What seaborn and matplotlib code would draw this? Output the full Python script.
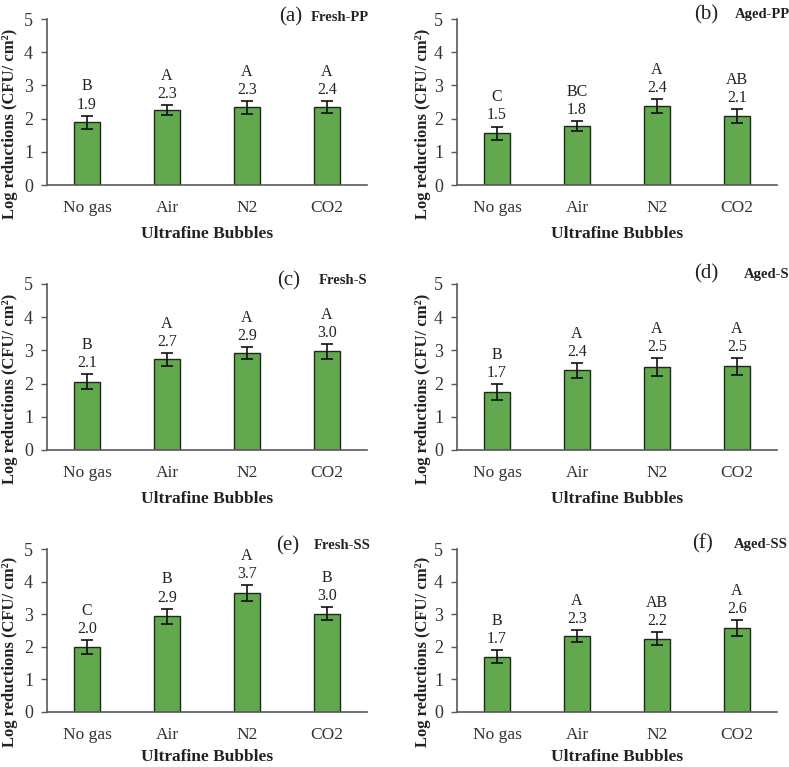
import matplotlib
matplotlib.use("Agg")
import matplotlib.pyplot as plt
import seaborn as sns
import pandas as pd
import numpy as np

sns.set_theme(style="white")
plt.rcParams['font.family'] = ['Liberation Serif', 'DejaVu Serif']

categories = ["No gas", "Air", "N2", "CO2"]

panel_ids = ["(a)", "(b)", "(c)", "(d)", "(e)", "(f)"]
panel_names = ["Fresh-PP", "Aged-PP", "Fresh-S", "Aged-S", "Fresh-SS", "Aged-SS"]

fresh_pp = [1.89, 2.26, 2.34, 2.36]
fresh_pp_err = [0.20, 0.15, 0.20, 0.18]
fresh_pp_grp = ["B", "A", "A", "A"]
fresh_pp_lbl = ["1.9", "2.3", "2.3", "2.4"]

aged_pp = [1.56, 1.78, 2.38, 2.08]
aged_pp_err = [0.20, 0.15, 0.20, 0.20]
aged_pp_grp = ["C", "BC", "A", "AB"]
aged_pp_lbl = ["1.5", "1.8", "2.4", "2.1"]

fresh_s = [2.06, 2.73, 2.92, 2.97]
fresh_s_err = [0.22, 0.20, 0.18, 0.22]
fresh_s_grp = ["B", "A", "A", "A"]
fresh_s_lbl = ["2.1", "2.7", "2.9", "3.0"]

aged_s = [1.75, 2.40, 2.50, 2.52]
aged_s_err = [0.23, 0.22, 0.27, 0.25]
aged_s_grp = ["B", "A", "A", "A"]
aged_s_lbl = ["1.7", "2.4", "2.5", "2.5"]

fresh_ss = [2.00, 2.94, 3.65, 3.02]
fresh_ss_err = [0.21, 0.23, 0.25, 0.21]
fresh_ss_grp = ["C", "B", "A", "B"]
fresh_ss_lbl = ["2.0", "2.9", "3.7", "3.0"]

aged_ss = [1.70, 2.34, 2.24, 2.58]
aged_ss_err = [0.21, 0.18, 0.20, 0.24]
aged_ss_grp = ["B", "A", "AB", "A"]
aged_ss_lbl = ["1.7", "2.3", "2.2", "2.6"]

series = [
    (fresh_pp, fresh_pp_err, fresh_pp_grp, fresh_pp_lbl),
    (aged_pp, aged_pp_err, aged_pp_grp, aged_pp_lbl),
    (fresh_s, fresh_s_err, fresh_s_grp, fresh_s_lbl),
    (aged_s, aged_s_err, aged_s_grp, aged_s_lbl),
    (fresh_ss, fresh_ss_err, fresh_ss_grp, fresh_ss_lbl),
    (aged_ss, aged_ss_err, aged_ss_grp, aged_ss_lbl),
]

W, H = 789, 767
fig = plt.figure(figsize=(W / 100, H / 100), dpi=100)

lefts = [47 / W, 457 / W]
width = 320 / W
tops = [19, 284, 549]
heights = [166, 166, 163]

# title positions (axes fraction): id x, name x, y
title_pos = [
    (0.725, 0.823, 1.01),
    (0.74, 0.868, 1.025),
    (0.72, 0.85, 1.02),
    (0.74, 0.895, 1.06),
    (0.715, 0.835, 1.02),
    (0.735, 0.866, 1.03),
]

green = "#62a84f"
edge = "#1e2a18"
axis_col = "#595959"
txt = "#222222"

for i, (vals, errs, grps, lbls) in enumerate(series):
    r, c = divmod(i, 2)
    bottom = 1 - (tops[r] + heights[r]) / H
    ax = fig.add_axes([lefts[c], bottom, width, heights[r] / H])
    df = pd.DataFrame({"cat": categories, "val": vals})
    sns.barplot(data=df, x="cat", y="val", ax=ax, color=green, width=0.32,
                edgecolor=edge, linewidth=1.0, saturation=1, errorbar=None)
    ax.errorbar(np.arange(len(vals)), vals, yerr=errs, fmt="none",
                ecolor="#111111", elinewidth=1.2, capsize=4, capthick=1.2)
    for j, (v, e, g, l) in enumerate(zip(vals, errs, grps, lbls)):
        ax.annotate(l, (j, v + e), xytext=(0, 8), textcoords="offset points",
                    ha="center", va="center", fontsize=11.5, color=txt)
        ax.annotate(g, (j, v + e), xytext=(0, 21), textcoords="offset points",
                    ha="center", va="center", fontsize=11.5, color=txt)
    ax.set_xlim(-0.5, 3.5)
    ax.set_ylim(0, 5)
    ax.set_yticks([0, 1, 2, 3, 4, 5])
    ax.set_xlabel("Ultrafine Bubbles", fontsize=12.5, fontweight="bold",
                  color=txt, labelpad=7 if r < 2 else 4)
    ax.set_ylabel("Log reductions (CFU/ cm²)", fontsize=12,
                  fontweight="bold", color=txt)
    ax.yaxis.set_label_coords(-0.092 if c == 0 else -0.082, 0.37)
    for s in ["top", "right"]:
        ax.spines[s].set_visible(False)
    for s in ["left", "bottom"]:
        ax.spines[s].set_color(axis_col)
        ax.spines[s].set_linewidth(1.2)
    ax.tick_params(axis="y", which="both", left=True, length=4, width=1,
                   color=axis_col, labelsize=13, labelcolor="#333333", pad=6)
    ax.tick_params(axis="x", bottom=False, labelsize=12.5, labelcolor="#333333", pad=5)
    ax.set_facecolor("white")
    ix, nx, ty = title_pos[i]
    ax.text(ix, ty, panel_ids[i], transform=ax.transAxes, fontsize=15,
            ha="left", va="center", color=txt)
    ax.text(nx, ty, panel_names[i], transform=ax.transAxes, fontsize=10.5,
            fontweight="bold", ha="left", va="center", color=txt)

fig.savefig("out.png", dpi=100, facecolor="white")
